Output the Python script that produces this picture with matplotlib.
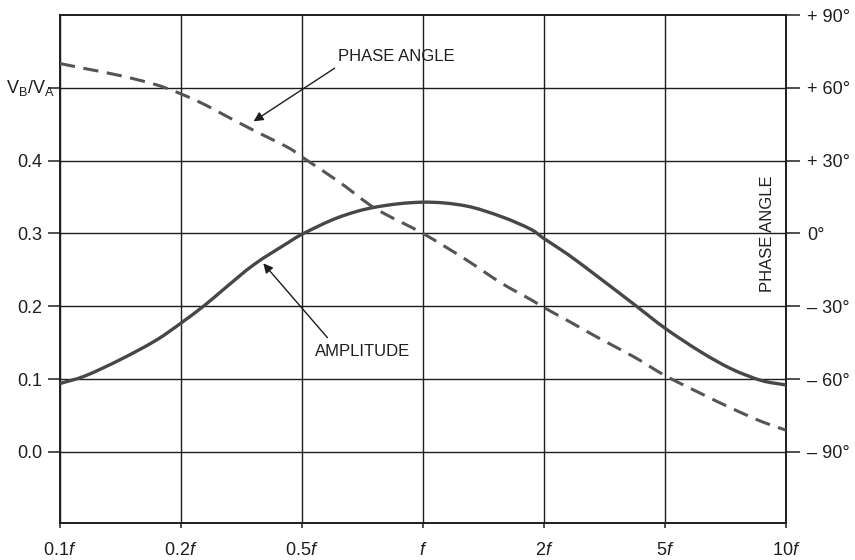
import matplotlib
matplotlib.use("Agg")
import matplotlib.pyplot as plt
from matplotlib.path import Path
from matplotlib.patches import PathPatch

plt.rcParams['font.family'] = ['Liberation Sans Narrow', 'Liberation Sans', 'DejaVu Sans']
plt.rcParams['mathtext.fontset'] = 'custom'
plt.rcParams['mathtext.rm'] = 'Liberation Sans'
plt.rcParams['mathtext.it'] = 'Liberation Sans:italic'

# ---- data ----
freq_labels = ["0.1$f$", "0.2$f$", "0.5$f$", "$f$", "2$f$", "5$f$", "10$f$"]
amp_ticks = [0.0, 0.1, 0.2, 0.3, 0.4, 0.5]
amp_tick_labels = ["0.0", "0.1", "0.2", "0.3", "0.4", ""]
phase_ticks = [-90, -60, -30, 0, 30, 60, 90]
phase_tick_labels = ["\u2013 90°", "\u2013 60°", "\u2013 30°", "0°", "+ 30°", "+ 60°", "+ 90°"]

# positions along the frequency axis (in tick-index units)
amp_pos = [0.0, 0.2, 0.5, 0.8, 1.0, 1.2, 1.35, 1.6, 1.9, 2.0, 2.3, 2.6, 3.0,
           3.35, 3.65, 3.9, 4.0, 4.2, 4.45, 4.75, 5.0, 5.3, 5.55, 5.8, 6.0]
amp_val = [0.094, 0.104, 0.127, 0.154, 0.177, 0.202, 0.223, 0.257, 0.289, 0.299,
           0.322, 0.336, 0.343, 0.338, 0.323, 0.305, 0.293, 0.271, 0.240, 0.202,
           0.170, 0.137, 0.114, 0.098, 0.092]

phase_pos = [0.0, 0.2, 0.5, 0.8, 1.0, 1.2, 1.35, 1.6, 1.9, 2.0, 2.3, 2.6, 3.0,
             3.35, 3.65, 3.9, 4.0, 4.2, 4.45, 4.75, 5.0, 5.3, 5.55, 5.8, 6.0]
phase_val = [70, 68, 65, 61.2, 57.5, 53, 49, 42.5, 35, 31.5, 21.5, 10.5, 0,
             -10.6, -20.5, -27.5, -30.5, -36, -43, -51, -58.5, -66, -72, -77.5, -81]


def smooth_path(xs, ys):
    """Catmull-Rom style spline through the points, as a cubic Bezier path."""
    n = len(xs)
    verts = [(xs[0], ys[0])]
    codes = [Path.MOVETO]
    for i in range(n - 1):
        x0, y0 = (xs[i - 1], ys[i - 1]) if i > 0 else (xs[i], ys[i])
        x1, y1 = xs[i], ys[i]
        x2, y2 = xs[i + 1], ys[i + 1]
        x3, y3 = (xs[i + 2], ys[i + 2]) if i + 2 < n else (x2, y2)
        h = x2 - x1
        m1 = ((y2 - y0) / (x2 - x0)) if x2 != x0 else 0.0
        m2 = ((y3 - y1) / (x3 - x1)) if x3 != x1 else 0.0
        c1 = (x1 + h / 3, y1 + m1 * h / 3)
        c2 = (x2 - h / 3, y2 - m2 * h / 3)
        verts += [c1, c2, (x2, y2)]
        codes += [Path.CURVE4] * 3
    return Path(verts, codes)


# ---- figure ----
W, H = 855, 560
fig = plt.figure(figsize=(W / 100, H / 100), dpi=100)
L, R, T, B = 60, 786, 15, 523
ax = fig.add_axes([L / W, 1 - B / H, (R - L) / W, (B - T) / H])
ymin, ymax = -0.0975, 0.6
ax.set_xlim(0, 6)
ax.set_ylim(ymin, ymax)

ink = '#1e1e1e'
for s in ax.spines.values():
    s.set_color(ink)
    s.set_linewidth(1.4)

ax.set_xticks(range(len(freq_labels)))
ax.set_xticklabels(freq_labels, fontsize=13)
ax.set_yticks(amp_ticks)
ax.set_yticklabels(amp_tick_labels, fontsize=13)
ax.tick_params(axis='y', direction='out', length=8.5, width=1.1, pad=4, colors=ink)
ax.tick_params(axis='x', direction='out', length=3.5, width=1.1, pad=10, colors=ink)
ax.yaxis.get_major_ticks()[-1].tick1line.set_visible(False)
ax.grid(True, color=ink, linewidth=1.0)
ax.set_axisbelow(True)

ax.annotate("V$_\\mathrm{B}$/V$_\\mathrm{A}$", xy=(0, 0.5),
            xycoords=('axes fraction', 'data'), xytext=(-4, 0),
            textcoords='offset points', ha='right', va='center',
            fontsize=13, color=ink)

ax2 = ax.twinx()
ax2.set_ylim((ymin - 0.3) * 300, (ymax - 0.3) * 300)
ax2.set_yticks(phase_ticks)
ax2.set_yticklabels(phase_tick_labels, fontsize=13)
ax2.tick_params(axis='y', direction='out', length=10, width=1.1, pad=5, colors=ink)
for s in ax2.spines.values():
    s.set_visible(False)

ax.add_patch(PathPatch(smooth_path(amp_pos, amp_val), fill=False,
                       edgecolor='#474747', linewidth=2.4, capstyle='butt',
                       zorder=5))
ax2.add_patch(PathPatch(smooth_path(phase_pos, phase_val), fill=False,
                        edgecolor='#555555', linewidth=2.2,
                        linestyle=(0, (5, 2.8)), zorder=5))

ax2.text(5.85, 0, "PHASE ANGLE", rotation=90, ha='center', va='center',
         fontsize=12, family=['Liberation Sans', 'DejaVu Sans'], color=ink)

arrow = dict(arrowstyle='-|>', lw=1.0, color=ink, mutation_scale=14,
             shrinkA=0, shrinkB=0)
ax.text(2.30, 0.543, "PHASE ANGLE", ha='left', va='center', fontsize=12,
        family=['Liberation Sans', 'DejaVu Sans'], color=ink)
ax.annotate('', xy=(1.60, 0.454), xytext=(2.27, 0.527), arrowprops=arrow)
ax.text(2.11, 0.138, "AMPLITUDE", ha='left', va='center', fontsize=12,
        family=['Liberation Sans', 'DejaVu Sans'], color=ink)
ax.annotate('', xy=(1.68, 0.259), xytext=(2.21, 0.157), arrowprops=arrow)

fig.savefig("out.png", dpi=100, facecolor='white')
